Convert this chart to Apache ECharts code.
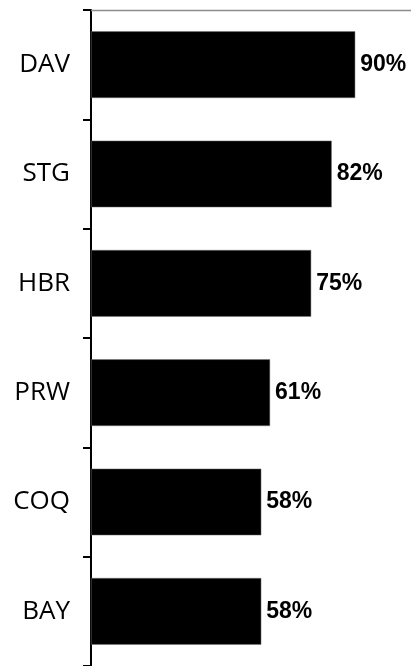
<!DOCTYPE html>
<html>
<head>
<meta charset="utf-8">
<script src="https://cdn.jsdelivr.net/npm/echarts@6/dist/echarts.min.js"></script>
<style>html,body{margin:0;padding:0;background:#fff}#c{width:411px;height:666px}</style>
</head>
<body>
<div id="c"></div>
<script>
var categories = ['DAV', 'STG', 'HBR', 'PRW', 'COQ', 'BAY'];
var values = [90, 82, 75, 61, 58, 58];

var chart = echarts.init(document.getElementById('c'), null, {renderer: 'canvas'});
chart.setOption({
  animation: false,
  backgroundColor: '#ffffff',
  grid: {left: 91, right: 0, top: 10, bottom: 0, containLabel: false},
  xAxis: {
    type: 'value', position: 'top', min: 0, max: 109,
    axisLine: {show: true, lineStyle: {color: '#8c8c8c', width: 1.3}},
    axisTick: {show: false}, axisLabel: {show: false}, splitLine: {show: false}
  },
  yAxis: {
    type: 'category', data: categories, inverse: true,
    axisLine: {show: true, lineStyle: {color: '#000', width: 2}},
    axisTick: {show: true, length: 8, inside: false, lineStyle: {color: '#000', width: 2}},
    axisLabel: {color: '#000', fontFamily: 'Open Sans', fontSize: 26, margin: 21}
  },
  series: [{
    type: 'bar', data: values, barCategoryGap: '39%',
    itemStyle: {color: '#000', borderColor: '#777', borderWidth: 0.5},
    label: {
      show: true, position: 'right', distance: 5,
      formatter: function (p) { return p.value + '%'; },
      color: '#000', fontFamily: 'Liberation Sans', fontWeight: 'bold', fontSize: 23
    }
  }]
});
</script>
</body>
</html>
